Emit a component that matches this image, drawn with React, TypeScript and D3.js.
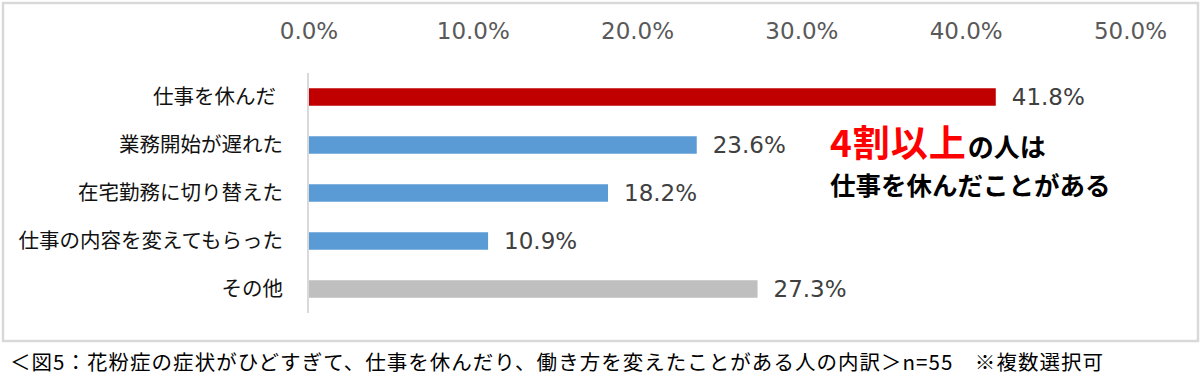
import React from "react";
import * as d3 from "d3";

const categories = ["仕事を休んだ", "業務開始が遅れた", "在宅勤務に切り替えた", "仕事の内容を変えてもらった", "その他"];
const values = [41.8, 23.6, 18.2, 10.9, 27.3];
const barColors = ["#c00000", "#5b9bd5", "#5b9bd5", "#5b9bd5", "#bfbfbf"];
const ticks = [0, 10, 20, 30, 40, 50];
const caption = "＜図5：花粉症の症状がひどすぎて、仕事を休んだり、働き方を変えたことがある人の内訳＞n=55　※複数選択可";
const noteRed = "4割以上";
const noteRest = "の人は";
const noteLine2 = "仕事を休んだことがある";

const W = 1202;
const H = 382;
const left = 309;
const right = 1130.5;
const top = 73;
const bottom = 313;

export default function App() {
  const x = d3.scaleLinear().domain([0, 50]).range([left, right]);
  const y = d3.scaleBand<string>().domain(categories).range([top, bottom]).padding(0);
  const barH = 17.5;
  const jp = "'Noto Sans CJK JP', 'Noto Sans', sans-serif";
  const num = "'DejaVu Sans', sans-serif";
  return (
    <svg width={W} height={H} style={{ position: "absolute", left: 0, top: 0, display: "block" }}>
      <rect x={0} y={0} width={W} height={H} fill="#fff" />
      <rect x={3} y={3} width={1195} height={338} fill="#fff" stroke="#d9d9d9" strokeWidth={2.5} />
      {ticks.map((t) => (
        <text key={t} x={x(t)} y={39} textAnchor="middle" fontFamily={num} fontSize={23} fill="#595959">
          {d3.format(".1f")(t) + "%"}
        </text>
      ))}
      {categories.map((c, i) => {
        const yc = (y(c) as number) + y.bandwidth() / 2;
        return (
          <g key={c}>
            <rect x={x(0)} y={yc - barH / 2} width={x(values[i]) - x(0)} height={barH} fill={barColors[i]} />
            <text x={i === 0 ? 276 : 283} y={yc} dy="0.35em" textAnchor="end" fontFamily={jp} fontSize={20.5} fill="#111">
              {c}
            </text>
            <text x={x(values[i]) + 16} y={yc} dy="0.36em" fontFamily={num} fontSize={23} fill="#404040">
              {d3.format(".1f")(values[i]) + "%"}
            </text>
          </g>
        );
      })}
      <line x1={308} x2={308} y1={top} y2={bottom} stroke="#d9d9d9" strokeWidth={2} />
      <text x={830} y={157} fontFamily={jp} fontWeight={700}>
        <tspan fill="#ff0000" fontSize={37} letterSpacing={1}>{noteRed}</tspan>
        <tspan fill="#000" fontSize={26} dx={1}>{noteRest}</tspan>
      </text>
      <text x={830} y={195} fontFamily={jp} fontWeight={700} fontSize={25.5} fill="#000">
        {noteLine2}
      </text>
      <text x={10} y={370} fontFamily={jp} fontSize={20.5} fill="#000" textLength={1093} lengthAdjust="spacing">
        {caption}
      </text>
    </svg>
  );
}
